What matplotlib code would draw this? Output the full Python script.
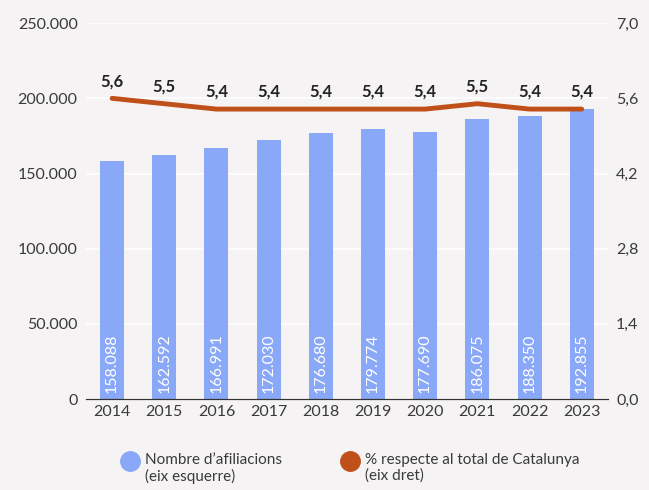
import matplotlib
matplotlib.use("Agg")
import matplotlib.pyplot as plt
import numpy as np
from matplotlib.lines import Line2D

years = ["2014", "2015", "2016", "2017", "2018", "2019", "2020", "2021", "2022", "2023"]
afiliacions = [158088, 162592, 166991, 172030, 176680, 179774, 177690, 186075, 188350, 192855]
percent = [5.6, 5.5, 5.4, 5.4, 5.4, 5.4, 5.4, 5.5, 5.4, 5.4]
legend_labels = ["Nombre d\u2019afiliacions\n(eix esquerre)", "% respecte al total de Catalunya\n(eix dret)"]

BG = "#f5f3f4"
BAR_COLOR = "#8aa8f8"
LINE_COLOR = "#c0501a"
TEXT_COLOR = "#3a3a3a"

plt.rcParams["font.family"] = ["Lato", "DejaVu Sans"]


def fmt_thousands(v):
    return f"{int(v):,}".replace(",", ".")


fig = plt.figure(figsize=(6.49, 4.9), dpi=100, facecolor=BG)
ax = fig.add_axes([0.1325, 0.1857, 0.804, 0.767], facecolor=BG)
ax2 = ax.twinx()

x = np.arange(len(years))
ax.bar(x, afiliacions, width=0.46, color=BAR_COLOR, zorder=2)
for xi, v in zip(x, afiliacions):
    ax.text(xi, 4000, fmt_thousands(v), rotation=90, ha="center", va="bottom",
            color="white", fontsize=11.5, zorder=3)

ax.set_xlim(-0.5, len(years) - 0.5)
ax.set_ylim(0, 250000)
ax.set_yticks(np.arange(0, 250001, 50000))
ax.set_yticklabels([fmt_thousands(v) for v in np.arange(0, 250001, 50000)])
ax.set_xticks(x)
ax.set_xticklabels(years)
ax.grid(axis="y", color="white", linewidth=1.2, zorder=0)
ax.set_axisbelow(True)

ax2.plot(x, percent, color=LINE_COLOR, linewidth=3.5, solid_capstyle="round", zorder=4)
for xi, v in zip(x, percent):
    ax2.text(xi, v + 0.17, f"{v:.1f}".replace(".", ","), ha="center", va="bottom",
             fontsize=12, fontweight="bold", color="#222222")
ax2.set_ylim(0, 7)
ax2.set_yticks(np.arange(0, 7.01, 1.4))
ax2.set_yticklabels([f"{v:.1f}".replace(".", ",") for v in np.arange(0, 7.01, 1.4)])

for a in (ax, ax2):
    for side in ("top", "left", "right"):
        a.spines[side].set_visible(False)
    a.spines["bottom"].set_color("#333333")
    a.tick_params(axis="both", length=0, colors=TEXT_COLOR, labelsize=11.5, pad=6)
ax.tick_params(axis="x", pad=4)

# legend drawn by hand: marker aligned with first text line
for mx, color, label in zip([0.2003, 0.539], [BAR_COLOR, LINE_COLOR], legend_labels):
    fig.add_artist(Line2D([mx], [1 - 461 / 490], marker="o", linestyle="", markersize=14,
                          color=color, transform=fig.transFigure))
    fig.text(mx + 0.023, 1 - 453 / 490, label, ha="left", va="top", fontsize=11,
             color=TEXT_COLOR, linespacing=1.15)

fig.savefig("out.png", dpi=100, facecolor=BG)
